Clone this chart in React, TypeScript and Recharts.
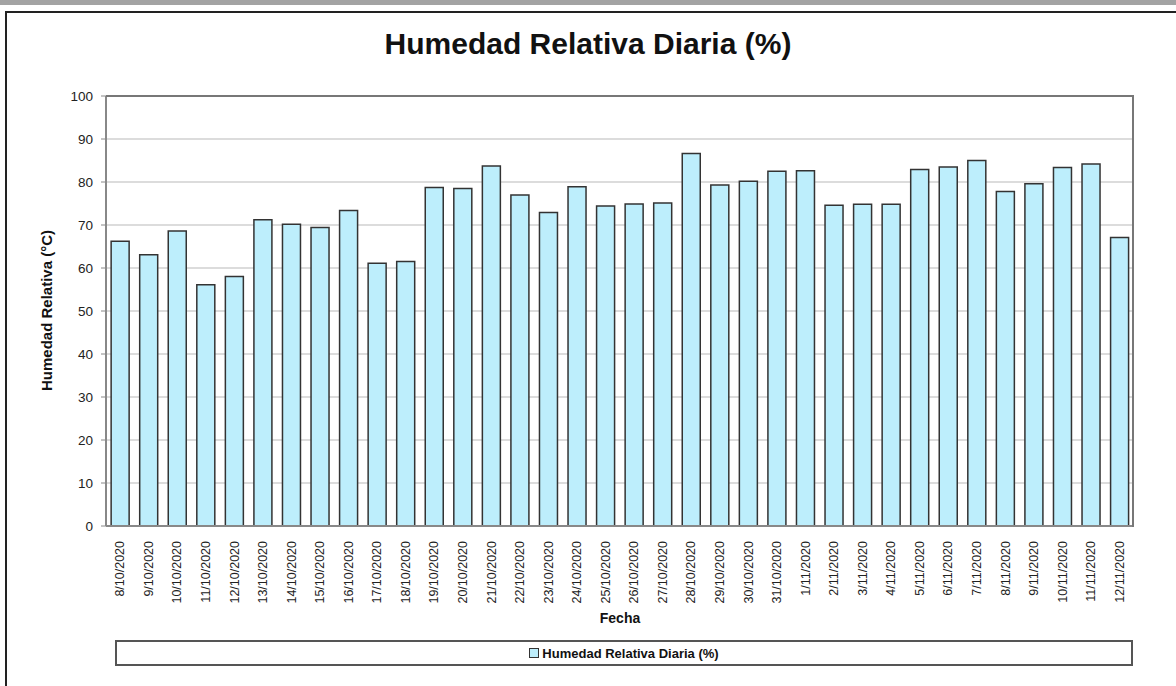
import { BarChart, Bar, XAxis, YAxis, CartesianGrid, Legend } from 'recharts'

const FECHAS = [
  '8/10/2020', '9/10/2020', '10/10/2020', '11/10/2020', '12/10/2020', '13/10/2020',
  '14/10/2020', '15/10/2020', '16/10/2020', '17/10/2020', '18/10/2020', '19/10/2020',
  '20/10/2020', '21/10/2020', '22/10/2020', '23/10/2020', '24/10/2020', '25/10/2020',
  '26/10/2020', '27/10/2020', '28/10/2020', '29/10/2020', '30/10/2020', '31/10/2020',
  '1/11/2020', '2/11/2020', '3/11/2020', '4/11/2020', '5/11/2020', '6/11/2020',
  '7/11/2020', '8/11/2020', '9/11/2020', '10/11/2020', '11/11/2020', '12/11/2020',
]

const HUMEDAD = [
  66.2, 63.1, 68.6, 56.1, 58.0, 71.2,
  70.2, 69.4, 73.4, 61.1, 61.5, 78.7,
  78.5, 83.7, 77.0, 72.9, 78.9, 74.4,
  74.9, 75.1, 86.6, 79.3, 80.2, 82.5,
  82.6, 74.6, 74.8, 74.8, 82.9, 83.5,
  85.0, 77.8, 79.6, 83.4, 84.2, 67.1,
]

const Y_TICKS = [0, 10, 20, 30, 40, 50, 60, 70, 80, 90, 100]

const SERIE = 'Humedad Relativa Diaria (%)'
const FILL = '#bdeefc'
const FONT = 'Arial, "Liberation Sans", sans-serif'

const data = FECHAS.map((f, i) => ({ fecha: f, hr: HUMEDAD[i] }))

function FechaTick({ x, y, payload }: any) {
  return (
    <g transform={`translate(${x},${y})`}>
      <text transform="rotate(-90)" x={-7} y={4} textAnchor="end" fontSize={12.5} fill="#222" fontFamily={FONT}>
        {payload.value}
      </text>
    </g>
  )
}

function LegendBox() {
  return (
    <div style={{ border: '2px solid #555', height: 22, display: 'flex', alignItems: 'center', justifyContent: 'center', background: '#fff', fontFamily: FONT, fontWeight: 'bold', fontSize: 13, color: '#111' }}>
      <span style={{ width: 8, height: 8, border: '1px solid #333', background: FILL, marginRight: 3, display: 'inline-block' }} />
      {SERIE}
    </div>
  )
}

export default function App() {
  return (
    <div style={{ position: 'absolute', left: 0, top: 0, width: 1176, height: 686, background: '#fff', overflow: 'hidden' }}>
      <div style={{ position: 'absolute', left: 0, top: 0, width: 1176, height: 5, background: '#a3a3a3' }} />
      <div style={{ position: 'absolute', left: 5, top: 11, width: 1190, height: 690, border: '2px solid #222', boxSizing: 'border-box' }} />
      <div style={{ position: 'absolute', left: 0, top: 27, width: 1176, textAlign: 'center', fontFamily: FONT, fontWeight: 'bold', fontSize: 30, color: '#111' }}>
        Humedad Relativa Diaria (%)
      </div>
      <div style={{ position: 'absolute', left: 0, top: 0 }}>
        <BarChart width={1176} height={686} data={data} margin={{ top: 96, right: 42, left: 0, bottom: 33 }} barCategoryGap="18%">
          <CartesianGrid vertical={false} stroke="#dcdcdc" strokeWidth={2} />
          <XAxis
            dataKey="fecha"
            interval={0}
            height={101}
            tick={<FechaTick />}
            tickLine={false}
            axisLine={{ stroke: '#888', strokeWidth: 2 }}
            label={{ value: 'Fecha', position: 'insideBottom', offset: 4, style: { fontFamily: FONT, fontWeight: 'bold', fontSize: 14, fill: '#111' } }}
          />
          <YAxis
            domain={[0, 100]}
            ticks={Y_TICKS}
            width={106}
            tickSize={5}
            tickLine={{ stroke: '#888' }}
            axisLine={{ stroke: '#888', strokeWidth: 2 }}
            tick={{ fontSize: 13.5, fill: '#222', fontFamily: FONT, dx: -6 }}
            label={{ value: 'Humedad Relativa (°C)', angle: -90, position: 'insideLeft', offset: 47, dy: 80, style: { fontFamily: FONT, fontWeight: 'bold', fontSize: 15, fill: '#111' } }}
          />
          <Legend content={<LegendBox />} wrapperStyle={{ position: 'absolute', top: 640, left: 115, width: 1018 }} />
          <Bar dataKey="hr" name={SERIE} fill={FILL} stroke="#333" strokeWidth={1.5} isAnimationActive={false} />
        </BarChart>
      </div>
      <div style={{ position: 'absolute', left: 106, top: 95, width: 1028, height: 432, borderTop: '2px solid #777', borderRight: '2px solid #777', boxSizing: 'border-box', pointerEvents: 'none' }} />
    </div>
  )
}
